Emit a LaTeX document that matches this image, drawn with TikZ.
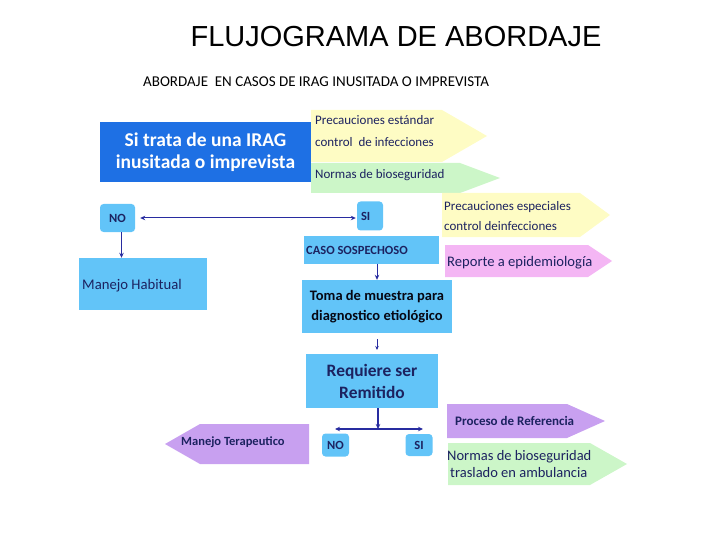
\documentclass[tikz,border=0pt]{standalone}
\usepackage{fontspec}
\setmainfont{Carlito}
\newfontfamily\arialf{Liberation Sans}
\usetikzlibrary{arrows.meta}
\definecolor{lblue}{RGB}{98,196,248}
\definecolor{dblue}{RGB}{30,112,228}
\definecolor{navy}{RGB}{28,34,96}
\definecolor{lineblue}{RGB}{40,44,160}
\definecolor{yel}{RGB}{254,252,196}
\definecolor{grn}{RGB}{204,246,200}
\definecolor{pnk}{RGB}{244,182,244}
\definecolor{lav}{RGB}{200,160,240}
\begin{document}
\begin{tikzpicture}[x=1pt,y=-1pt,
  lbox/.style={fill=lblue, draw=none, inner sep=0pt, text=navy, font=\bfseries\fontsize{12.5}{14}\selectfont},
  rbox/.style={lbox, rounded corners=3.5pt},
  lbl/.style={anchor=west, inner sep=0pt, text=navy, font=\fontsize{13}{15}\selectfont},
  conn/.style={draw=lineblue, line width=1.2pt, -{Stealth[length=5pt,width=4.5pt]}},
]
\useasboundingbox (0,0) rectangle (720,540);

\node[font=\arialf\fontsize{29}{32}\selectfont] (title) at (396,37) {FLUJOGRAMA DE ABORDAJE};
\node[anchor=west, inner sep=0pt, font=\fontsize{15}{17}\selectfont] (sub) at (143,82) {ABORDAJE\ \ EN CASOS DE IRAG INUSITADA O IMPREVISTA};

% arrow shapes
\fill[yel] (311,110) -- (442,110) -- (487,136) -- (442,162) -- (311,162) -- cycle;
\fill[grn] (311,163) -- (460,163) -- (500,178) -- (460,193) -- (311,193) -- cycle;
\fill[yel] (442,193) -- (580,193) -- (610,215) -- (580,237) -- (442,237) -- cycle;
\fill[pnk] (445,245) -- (588,245) -- (612,261) -- (588,277) -- (445,277) -- cycle;
\fill[lav] (447,404) -- (567,404) -- (605,421) -- (567,438) -- (447,438) -- cycle;
\fill[grn] (448,443) -- (590,443) -- (627,464) -- (590,485) -- (448,485) -- cycle;
\fill[lav] (309,424) -- (200,424) -- (165,444) -- (200,464) -- (309,464) -- cycle;

\node[lbl] (p1) at (315,120) {Precauciones estándar};
\node[lbl] (p2) at (315,142) {control\ \ de infecciones};
\node[lbl] (nb1) at (315,175) {Normas de bioseguridad};
\node[lbl] (pe1) at (444,207) {Precauciones especiales};
\node[lbl] (pe2) at (444,226) {control deinfecciones};
\node[lbl, font=\fontsize{14.6}{16}\selectfont] (rep) at (447,263) {Reporte a epidemiología};
\node[lbl, font=\bfseries\fontsize{13}{14}\selectfont] (pref) at (455,421) {Proceso de Referencia};
\node[lbl, align=left, font=\fontsize{14.5}{17.5}\selectfont] (nb2) at (447,464) {Normas de bioseguridad\\\hspace*{3pt}traslado en ambulancia};
\node[lbl, font=\bfseries\fontsize{12.5}{14}\selectfont] (mt) at (181,442) {Manejo Terapeutico};

% main blue box
\node[fill=dblue, text=white, inner sep=0pt, minimum width=211, minimum height=60, align=center,
  font=\bfseries\fontsize{19.5}{22}\selectfont] (irag) at (205.5,152) {Si trata de una IRAG\\inusitada o imprevista};

% light blue boxes
\node[rbox, minimum width=35, minimum height=28] (no1) at (117.5,218) {NO};
\node[rbox, minimum width=26, minimum height=29] (si1) at (370,216) {\makebox[22pt][l]{\hspace{2pt}SI}};
\node[lbox, minimum width=128, minimum height=52] (mh) at (143,284) {};
\node[lbl, font=\fontsize{14.7}{16}\selectfont] at (82,286) {Manejo Habitual};
\node[lbox, minimum width=135, minimum height=28] (caso) at (371,249.5) {};
\node[lbl, font=\bfseries\fontsize{12.5}{14}\selectfont] at (306,250) {CASO SOSPECHOSO};
\node[lbox, minimum width=150, minimum height=53, align=center, text=black!80!navy,
  font=\bfseries\fontsize{14.5}{20}\selectfont] (toma) at (377,306.5) {Toma de muestra para\\diagnostico etiológico};
\node[lbox, minimum width=132, minimum height=54, align=center,
  font=\bfseries\fontsize{17.4}{22}\selectfont] (req) at (372,381) {Requiere ser\\Remitido};
\node[rbox, minimum width=27, minimum height=23] (no2) at (335.5,445) {NO};
\node[rbox, minimum width=27, minimum height=22] (si2) at (419,445) {SI};

% connectors
\draw[conn, {Stealth[length=5pt,width=4.5pt]}-{Stealth[length=5pt,width=4.5pt]}, line width=1pt]
  ([xshift=5pt]no1.east) -- ([xshift=-1pt]si1.west |- no1.east);
\draw[conn, line width=1pt] ([xshift=4pt]no1.south) -- ([xshift=4pt]no1.south |- mh.north);
\draw[conn, line width=0.8pt] ([xshift=6pt]caso.south) -- ([xshift=6pt]caso.south |- toma.north);
\coordinate (t1) at (377,339);
\coordinate (t2) at (377,350);
\draw[conn, line width=0.7pt, -{Stealth[length=4pt,width=3.5pt]}] (t1) -- (t2);
\coordinate (j) at (378,429);
\coordinate (jl) at (335,429);
\coordinate (jr) at (423,429);
\draw[conn, line width=2pt] ([xshift=6pt]req.south) -- (j);
\draw[conn, line width=1.5pt, {Stealth[length=5pt,width=4.5pt]}-{Stealth[length=5pt,width=4.5pt]}] (jl) -- (jr);
\end{tikzpicture}
\end{document}
